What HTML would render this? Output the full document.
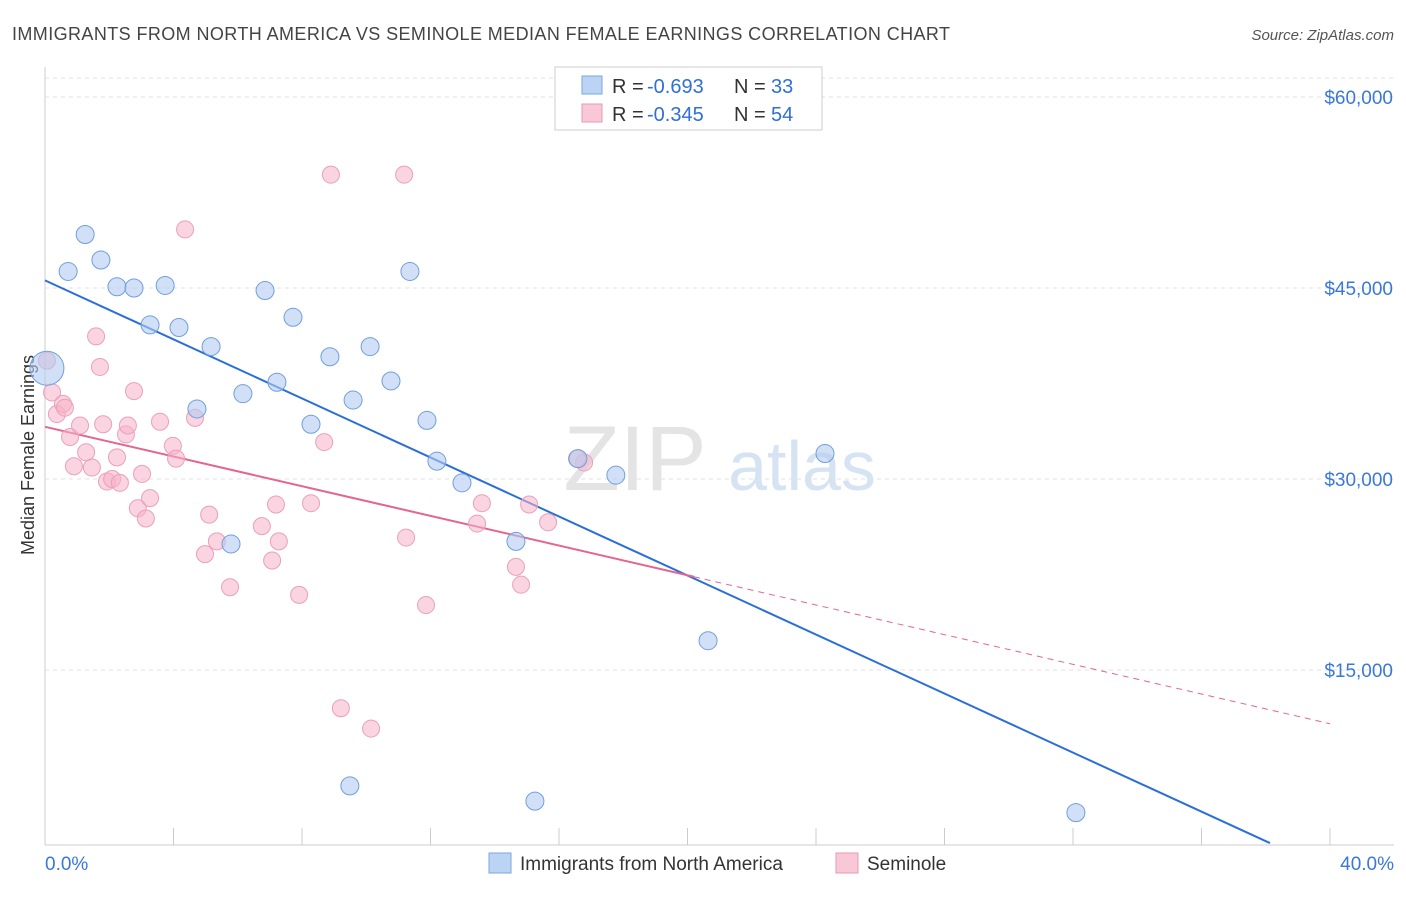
<!DOCTYPE html>
<html><head><meta charset="utf-8"><style>
body{margin:0;background:#fff;font-family:"Liberation Sans",Arial,sans-serif;}
svg text{font-family:"Liberation Sans",Arial,sans-serif;}
</style></head><body>
<svg id="chart" width="1406" height="892" viewBox="0 0 1406 892">
<text x="12" y="40" font-size="18" fill="#444" textLength="938">IMMIGRANTS FROM NORTH AMERICA VS SEMINOLE MEDIAN FEMALE EARNINGS CORRELATION CHART</text>
<text x="1394" y="40" font-size="15" fill="#555" font-style="italic" text-anchor="end">Source: ZipAtlas.com</text>
<g id="grid"></g>
<g><text x="635" y="490" font-size="92" fill="#e4e4e4" font-family="Liberation Serif" text-anchor="middle">ZIP</text><text x="802" y="490" font-size="70" fill="#d6e3f3" text-anchor="middle">atlas</text></g>
<text transform="translate(34,455) rotate(-90)" font-size="18" fill="#333" text-anchor="middle">Median Female Earnings</text>
<g id="lines"></g>
<g id="points"></g>
<g>
<rect x="555" y="67" width="267" height="63" fill="#fff" stroke="#ccc"/>
<rect x="582" y="76" width="20" height="18" fill="#bcd4f4" stroke="#7aa6e0"/>
<text y="93" font-size="20" fill="#333"><tspan x="612">R = </tspan><tspan x="647" fill="#2f6fd6">-0.693</tspan><tspan x="734">N = </tspan><tspan x="771" fill="#2f6fd6">33</tspan></text>
<rect x="582" y="104" width="20" height="18" fill="#f8c8d6" stroke="#e89ab2"/>
<text y="121" font-size="20" fill="#333"><tspan x="612">R = </tspan><tspan x="647" fill="#2f6fd6">-0.345</tspan><tspan x="734">N = </tspan><tspan x="771" fill="#2f6fd6">54</tspan></text>
</g>
<g>
<rect x="489" y="853" width="22" height="20" fill="#bcd4f4" stroke="#7aa6e0"/>
<text x="520" y="870" font-size="19" fill="#333">Immigrants from North America</text>
<rect x="836" y="853" width="22" height="20" fill="#f8c8d6" stroke="#e89ab2"/>
<text x="867" y="870" font-size="19" fill="#333">Seminole</text>
</g>
</svg>
<script>
const yTicks=[15000,30000,45000,60000];
const yTickLabels=["$15,000","$30,000","$45,000","$60,000"];
const xTickLabels=["0.0%","40.0%"];
const blueX=[0.06,0.72,1.25,1.74,2.24,2.77,3.27,3.74,4.17,5.17,4.73,6.16,6.85,7.22,7.72,8.28,8.87,9.59,10.12,10.77,11.36,11.89,12.2,12.98,14.66,16.59,17.77,20.64,24.28,9.49,15.25,32.09,5.79];
const blueY=[38700,46300,49200,47200,45100,45000,42100,45200,41900,40400,35500,36700,44800,37600,42700,34300,39600,36200,40400,37700,46300,34600,31400,29700,25100,31600,30300,17300,32000,5900,4700,3800,24900];
const pinkX=[0.06,0.22,0.37,0.56,0.62,0.78,0.9,1.09,1.28,1.46,1.59,1.71,1.81,1.93,2.09,2.24,2.33,2.52,2.58,2.77,2.89,3.02,3.14,3.27,3.58,3.98,4.08,4.36,4.67,4.98,5.11,5.35,5.76,6.75,7.07,7.19,7.28,7.91,8.28,8.69,8.9,9.21,10.15,11.18,11.24,11.86,13.45,13.6,14.66,14.82,15.07,15.66,16.78,16.56];
const pinkY=[39300,36800,35100,35900,35600,33300,31000,34200,32100,30900,41200,38800,34300,29800,30000,31700,29700,33500,34200,36900,27700,30400,26900,28500,34500,32600,31600,49600,34800,24100,27200,25100,21500,26300,23600,28000,25100,20900,28100,32900,53900,12000,10400,53900,25400,20100,26500,28100,23100,21700,28000,26600,31300,31600];
const blueTrend=[45600,-1159];
const blueEnd=38.13;
const pinkTrend=[34100,-583];
const pinkSolidEnd=20.2;
const NS="http://www.w3.org/2000/svg";
const X=v=>45+v*32.125;
const Y=v=>861-v*191/15000;
function mk(t,a,p){const e=document.createElementNS(NS,t);for(const k in a)e.setAttribute(k,a[k]);p.appendChild(e);return e;}
const grid=document.getElementById('grid');
mk('line',{x1:45,y1:67,x2:45,y2:845,stroke:'#ccc'},grid);
mk('line',{x1:45,y1:845,x2:1394,y2:845,stroke:'#ccc'},grid);
mk('line',{x1:45,y1:78,x2:1394,y2:78,stroke:'#e2e2e2','stroke-dasharray':'4,4'},grid);
yTicks.forEach((t,i)=>{
 const l=mk('line',{x1:45,y1:Y(t),x2:1394,y2:Y(t),stroke:'#e2e2e2','stroke-dasharray':'4,4'},grid);
 
 
 const tx=mk('text',{x:1393,y:Y(t)+7,'font-size':19,fill:'#3a78d8','text-anchor':'end'},grid);
 tx.textContent=yTickLabels[i];
 
 
});
for(let i=0;i<=10;i++){const l=mk('line',{x1:X(i*4),y1:828,x2:X(i*4),y2:845,stroke:'#ccc'},grid);
 
 }
[[0,'start',45],[40,'end',1394]].forEach((d,i)=>{const tx=mk('text',{x:d[2],y:870,'font-size':19,fill:'#3a78d8','text-anchor':d[1]},grid);tx.textContent=xTickLabels[i];
 
 });
const pts=document.getElementById('points');
pinkX.forEach((x,i)=>{const c=mk('circle',{cx:X(x),cy:Y(pinkY[i]),r:8.5,fill:'rgba(246,178,200,0.55)',stroke:'#eaa0b8','stroke-width':1},pts);
 
 });
blueX.forEach((x,i)=>{const c=mk('circle',{cx:X(x),cy:Y(blueY[i]),r:i===0?17:9,fill:'rgba(178,204,240,0.6)',stroke:'#6f9fdc','stroke-width':1},pts);
 
 });
const ln=document.getElementById('lines');
const bl=mk('line',{x1:X(0),y1:Y(blueTrend[0]),x2:X(blueEnd),y2:Y(blueTrend[0]+blueTrend[1]*blueEnd),stroke:'#2a6fd8','stroke-width':2},ln);


const pl=mk('line',{x1:X(0),y1:Y(pinkTrend[0]),x2:X(pinkSolidEnd),y2:Y(pinkTrend[0]+pinkTrend[1]*pinkSolidEnd),stroke:'#e4658e','stroke-width':2},ln);


const pd=mk('line',{x1:X(pinkSolidEnd),y1:Y(pinkTrend[0]+pinkTrend[1]*pinkSolidEnd),x2:X(40),y2:Y(pinkTrend[0]+pinkTrend[1]*40),stroke:'#e4658e','stroke-width':1,'stroke-dasharray':'6,5'},ln);


</script>
</body></html>
